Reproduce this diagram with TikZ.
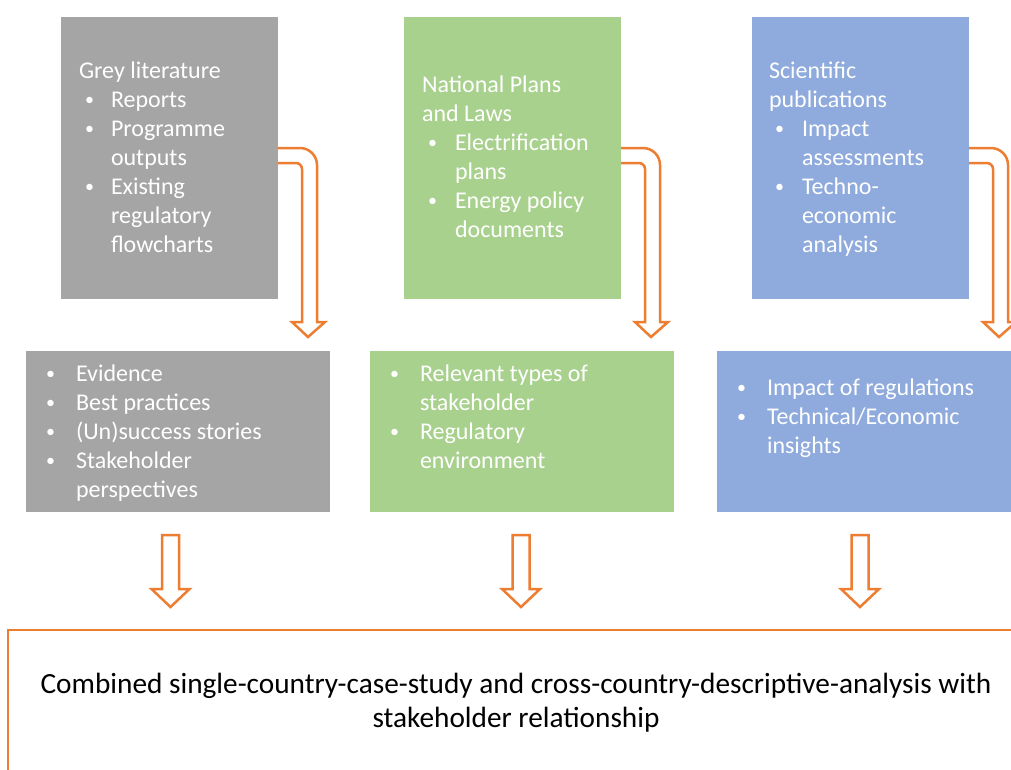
\documentclass[tikz,border=0pt]{standalone}
\usepackage{fontspec}
\usepackage{graphicx}
\setmainfont{Carlito}
\usetikzlibrary{calc}
\definecolor{boxgrey}{HTML}{A5A5A5}
\definecolor{boxgreen}{HTML}{A9D18E}
\definecolor{boxblue}{HTML}{8FAADC}
\definecolor{arrorange}{HTML}{ED7D31}
% bullet: offset from the line start, then the hanging indent
\newcommand\bl[2]{\makebox[#2][l]{\hspace{#1}\raisebox{1.2pt}{\scalebox{0.75}{\textbullet}}}}
\begin{document}
\begin{tikzpicture}[x=1pt,y=-1pt,
  panel/.style={rectangle, inner sep=0pt, outer sep=0pt, draw=none, anchor=north west},
  % multi-line texts are placed by the baseline of their last line
  txt/.style={anchor=base west, inner sep=0pt, outer sep=0pt, text=white,
              font=\fontsize{24}{29}\selectfont, align=left},
  hollow/.style={draw=arrorange, line width=2.5pt, fill=white, line join=miter}]
\useasboundingbox (0,0) rectangle (1011,769);
\clip (0,0) rectangle (1011,769);

% source panels
\node[panel, fill=boxgrey,  minimum width=217, minimum height=282] (gtop) at (61,17) {};
\node[panel, fill=boxgreen, minimum width=217, minimum height=282] (ntop) at (404,17) {};
\node[panel, fill=boxblue,  minimum width=217, minimum height=282] (btop) at (752,17) {};

% outcome panels
\node[panel, fill=boxgrey,  minimum width=304, minimum height=161] (gmid) at (26,351) {};
\node[panel, fill=boxgreen, minimum width=304, minimum height=161] (nmid) at (370,351) {};
\node[panel, fill=boxblue,  minimum width=320, minimum height=161] (bmid) at (717,351) {};

% combined result
\node[panel, draw=arrorange, line width=2.5pt, minimum width=1040, minimum height=170] (result) at (8,630) {};

% texts
\node[txt] (gtoptxt) at (79,252) {Grey literature\\
  \bl{6pt}{32pt}Reports\\
  \bl{6pt}{32pt}Programme\\
  \hspace*{32pt}outputs\\
  \bl{6pt}{32pt}Existing\\
  \hspace*{32pt}regulatory\\
  \hspace*{32pt}flowcharts};
\node[txt] (ntoptxt) at (422,237) {National Plans\\
  and Laws\\
  \bl{6pt}{33pt}Electrification\\
  \hspace*{33pt}plans\\
  \bl{6pt}{33pt}Energy policy\\
  \hspace*{33pt}documents};
\node[txt] (btoptxt) at (769,252) {Scientific\\
  publications\\
  \bl{6pt}{33pt}Impact\\
  \hspace*{33pt}assessments\\
  \bl{6pt}{33pt}Techno-\\
  \hspace*{33pt}economic\\
  \hspace*{33pt}analysis};

\node[txt] (gmidtxt) at (46,497) {\bl{0pt}{30pt}Evidence\\
  \bl{0pt}{30pt}Best practices\\
  \bl{0pt}{30pt}(Un)success stories\\
  \bl{0pt}{30pt}Stakeholder\\
  \hspace*{30pt}perspectives};
\node[txt] (nmidtxt) at (390,468) {\bl{0pt}{30pt}Relevant types of\\
  \hspace*{30pt}stakeholder\\
  \bl{0pt}{30pt}Regulatory\\
  \hspace*{30pt}environment};
\node[txt] (bmidtxt) at (737,453) {\bl{0pt}{30pt}Impact of regulations\\
  \bl{0pt}{30pt}Technical/Economic\\
  \hspace*{30pt}insights};

\node[anchor=base, inner sep=0pt, font=\fontsize{29.3}{34}\selectfont, align=center]
  (resulttxt) at (516,727) {Combined single-country-case-study and cross-country-descriptive-analysis with\\
  stakeholder relationship};

% bent hollow arrows from each source panel down to its outcome panel
\foreach \src in {gtop,ntop,btop}{
  \begin{scope}[shift={(\src.north east)}]
    \draw[hollow] (0,131) -- (22,131)
      .. controls (31.4,131) and (39,138.6) .. (39,148)
      -- (39,305) -- (47,305) -- (30,320) -- (14,305) -- (24,305)
      -- (24,152) .. controls (24,148.7) and (21.3,146) .. (18,146)
      -- (0,146);
  \end{scope}
}

% straight hollow arrows from each outcome panel to the result
\coordinate (gdown) at ($(gmid.south)+(-7.5,23)$);
\coordinate (ndown) at ($(nmid.south)+(-1,23)$);
\coordinate (bdown) at ($(bmid.south west)+(143,23)$);
\foreach \c in {gdown,ndown,bdown}{
  \begin{scope}[shift={(\c)}]
    \draw[hollow] (-8.5,0) -- (8.5,0) -- (8.5,54) -- (19,54) -- (0,72)
      -- (-19,54) -- (-8.5,54) -- cycle;
  \end{scope}
}
\end{tikzpicture}
\end{document}
